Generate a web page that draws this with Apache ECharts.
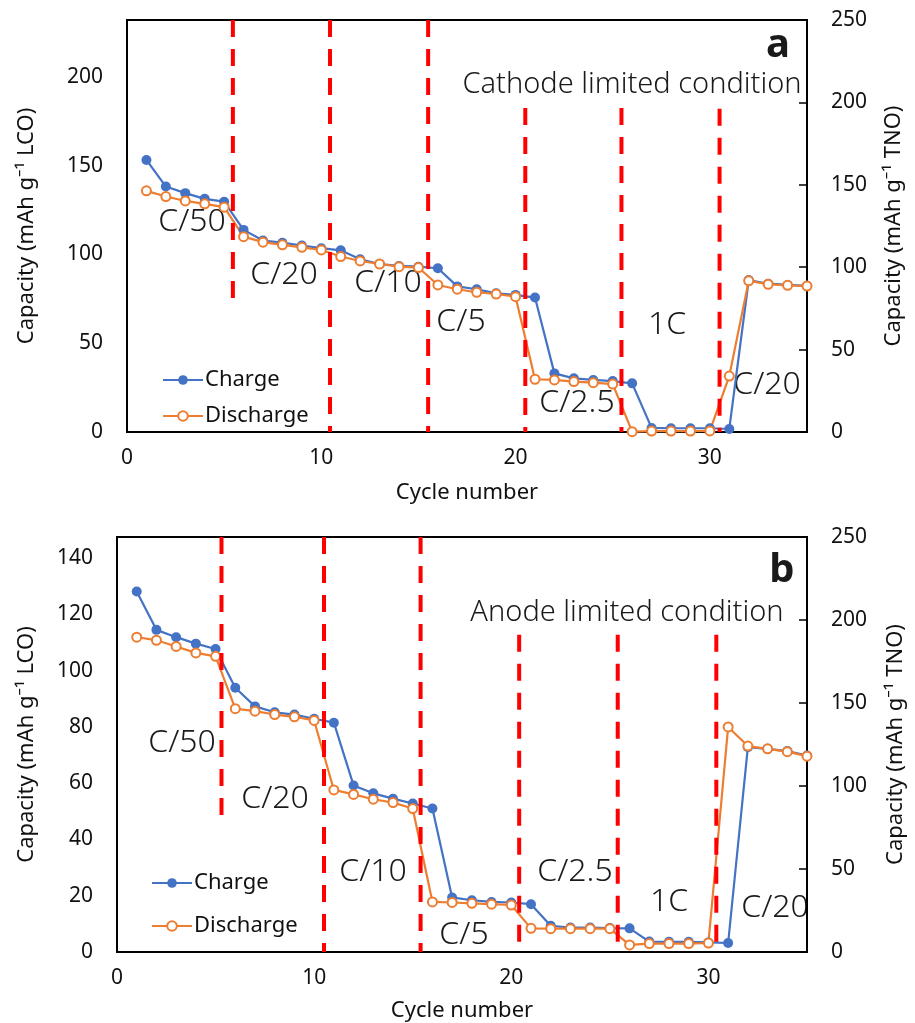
<!DOCTYPE html>
<html>
<head>
<meta charset="utf-8">
<script src="https://cdn.jsdelivr.net/npm/echarts@6/dist/echarts.min.js"></script>
<style>
  html, body { margin: 0; padding: 0; background: #fff; }
  #chart { width: 915px; height: 1023px; }
</style>
</head>
<body>
<div id="chart"></div>
<script>
// Cycle index shared by both panels
const cycles = [1,2,3,4,5,6,7,8,9,10,11,12,13,14,15,16,17,18,19,20,21,22,23,24,25,26,27,28,29,30,31,32,33,34,35];

// Panel a: cathode limited (mAh g-1 LCO)
const chargeA = [153.2,138.2,134.5,131.3,129.7,113.8,107.8,106.6,105.0,103.5,102.3,97.3,94.6,93.5,93.1,92.2,82.0,80.4,78.1,77.2,75.7,33.0,30.2,29.3,28.7,27.4,2.3,2.1,2.1,2.1,1.7,85.6,83.5,82.8,82.3];
const dischargeA = [135.8,132.6,130.1,128.5,126.6,110.0,106.9,105.4,104.0,102.5,98.8,96.3,94.6,93.1,92.6,82.8,80.4,78.7,77.7,76.2,29.7,29.3,28.4,27.8,27.0,0.2,0.5,0.5,0.5,0.6,31.5,85.1,83.2,82.6,82.2];

// Panel b: anode limited (mAh g-1 LCO)
const chargeB = [128.1,114.5,111.9,109.6,107.7,93.9,87.3,85.2,84.4,82.9,81.5,59.2,56.4,54.5,52.8,51.0,19.4,18.4,17.8,17.6,17.0,9.3,8.7,8.7,8.5,8.4,3.7,3.6,3.6,3.4,3.2,72.8,72.2,71.4,69.8];
const dischargeB = [111.9,110.8,108.6,106.3,105.1,86.5,85.6,84.4,83.6,82.3,57.6,56.0,54.3,53.1,51.0,17.8,17.6,17.3,17.0,16.7,8.4,8.3,8.3,8.3,8.3,2.5,3.0,3.0,3.0,3.2,80.0,73.2,72.2,71.2,69.6];

// Rate-change boundaries (cycle) with the vertical span of each dashed marker [yTop, yBottom]
const switchesA = [[5.45, 232, 73], [10.45, 232, 0], [15.5, 232, 0], [20.5, 182.5, 0], [25.45, 182.5, 0], [30.5, 182, 0]];
const switchesB = [[5.3, 147.5, 45.4], [10.5, 147.5, 0], [15.4, 147.5, 0], [20.4, 112.8, 0], [25.4, 112.8, 0], [30.4, 112.8, 0]];

// Axis ranges
const yLeftMaxA = 232, yLeftStepA = 50;
const yLeftMaxB = 147.5, yLeftStepB = 20;
const yRightMax = 250, yRightStep = 50;
const xMax = 35, xStep = 10;

const FONT = 'Noto Sans';
const BLUE = '#4472C4', ORANGE = '#ED7D31';

const pairs = (ys) => cycles.map((c, i) => [c, ys[i]]);

function xAxis(gridIndex, nameGap) {
  return {
    type: 'value', gridIndex, min: 0, max: xMax, interval: xStep,
    name: 'Cycle number', nameLocation: 'middle', nameGap,
    nameTextStyle: { fontFamily: FONT, fontSize: 22, color: '#111' },
    axisLine: { onZero: false, lineStyle: { color: '#000', width: 2 } },
    axisTick: { show: false },
    axisLabel: { fontFamily: FONT, fontSize: 21, color: '#111', margin: 16, showMaxLabel: false },
    splitLine: { show: false }
  };
}

function yLeft(gridIndex, max, step, nameGap) {
  return {
    type: 'value', gridIndex, position: 'left', min: 0, max, interval: step,
    name: 'Capacity (mAh g\u207B\u00B9 LCO)', nameLocation: 'middle', nameGap, nameRotate: 90,
    nameTextStyle: { fontFamily: FONT, fontSize: 22, color: '#111' },
    axisLine: { show: true, lineStyle: { color: '#000', width: 2 } },
    axisTick: { show: false },
    axisLabel: { fontFamily: FONT, fontSize: 21, color: '#111', margin: 24, showMaxLabel: false },
    splitLine: { show: false }
  };
}

function yRight(gridIndex, nameGap) {
  return {
    type: 'value', gridIndex, position: 'right', min: 0, max: yRightMax, interval: yRightStep,
    name: 'Capacity (mAh g\u207B\u00B9 TNO)', nameLocation: 'middle', nameGap, nameRotate: 90,
    nameTextStyle: { fontFamily: FONT, fontSize: 22, color: '#111' },
    axisLine: { show: true, lineStyle: { color: '#000', width: 2 } },
    axisTick: { show: true, inside: true, length: 8, lineStyle: { color: '#000', width: 1.5 } },
    axisLabel: { fontFamily: FONT, fontSize: 21, color: '#111', margin: 24 },
    splitLine: { show: false }
  };
}

function dataSeries(name, ys, axisIdx, color, hollow) {
  return {
    type: 'line', name, xAxisIndex: axisIdx, yAxisIndex: axisIdx * 2,
    data: pairs(ys), z: 2,
    symbol: hollow ? 'emptyCircle' : 'circle', symbolSize: hollow ? 9 : 10,
    lineStyle: { color, width: 2.2 },
    itemStyle: hollow ? { color, borderColor: color, borderWidth: 1.5 } : { color },
    emphasis: { disabled: true }, animation: false
  };
}

function dashSeries(switches, axisIdx) {
  return switches.map(([x, y0, y1]) => ({
    type: 'line', xAxisIndex: axisIdx, yAxisIndex: axisIdx * 2,
    data: [[x, y0], [x, y1]], symbol: 'none', z: 3, silent: true,
    lineStyle: { color: '#FF0000', width: 4, type: [17, 12] },
    animation: false
  }));
}

function label(text, x, y, size, weight) {
  return {
    type: 'text', x, y, silent: true,
    style: { text, fill: '#1a1a1a', font: `${weight || '300'} ${size}px "${FONT}"`, textAlign: 'center', textVerticalAlign: 'middle' }
  };
}

const rateSize = 32;
const option = {
  backgroundColor: '#fff',
  animation: false,
  grid: [
    { left: 127, top: 20, width: 680, height: 412, show: true, borderColor: '#000', borderWidth: 2 },
    { left: 117, top: 537, width: 693, height: 416, show: true, borderColor: '#000', borderWidth: 2 }
  ],
  xAxis: [xAxis(0, 50), xAxis(1, 48)],
  yAxis: [
    yLeft(0, yLeftMaxA, yLeftStepA, 89), yRight(0, 76),
    yLeft(1, yLeftMaxB, yLeftStepB, 79), yRight(1, 78)
  ],
  legend: [
    { data: ['Charge', 'Discharge'], orient: 'vertical', left: 157, top: 364, itemWidth: 40, itemHeight: 12, itemGap: 14,
      textStyle: { fontFamily: FONT, fontSize: 22, color: '#111', padding: [0, 0, 0, -3] } },
    { data: ['Charge', 'Discharge'], orient: 'vertical', left: 146, top: 867, itemWidth: 40, itemHeight: 12, itemGap: 21,
      textStyle: { fontFamily: FONT, fontSize: 22, color: '#111', padding: [0, 0, 0, -3] } }
  ],
  series: [
    dataSeries('Charge', chargeA, 0, BLUE, false),
    dataSeries('Discharge', dischargeA, 0, ORANGE, true),
    dataSeries('Charge', chargeB, 1, BLUE, false),
    dataSeries('Discharge', dischargeB, 1, ORANGE, true),
    ...dashSeries(switchesA, 0),
    ...dashSeries(switchesB, 1)
  ],
  graphic: [
    // panel a annotations
    label('a', 778, 46, 40, 'bold'),
    label('Cathode limited condition', 632, 85, 29),
    label('C/50', 192, 222, rateSize),
    label('C/20', 284, 275, rateSize),
    label('C/10', 388, 283, rateSize),
    label('C/5', 461, 322, rateSize),
    label('C/2.5', 577, 403, rateSize),
    label('1C', 667, 325, rateSize),
    label('C/20', 767, 385, rateSize),
    // panel b annotations
    label('b', 782, 571, 40, 'bold'),
    label('Anode limited condition', 627, 613, 29),
    label('C/50', 182, 743, rateSize),
    label('C/20', 275, 799, rateSize),
    label('C/10', 373, 872, rateSize),
    label('C/5', 464, 935, rateSize),
    label('C/2.5', 575, 872, rateSize),
    label('1C', 669, 902, rateSize),
    label('C/20', 775, 908, rateSize)
  ]
};

const chart = echarts.init(document.getElementById('chart'), null, { renderer: 'canvas' });
chart.setOption(option);
</script>
</body>
</html>
